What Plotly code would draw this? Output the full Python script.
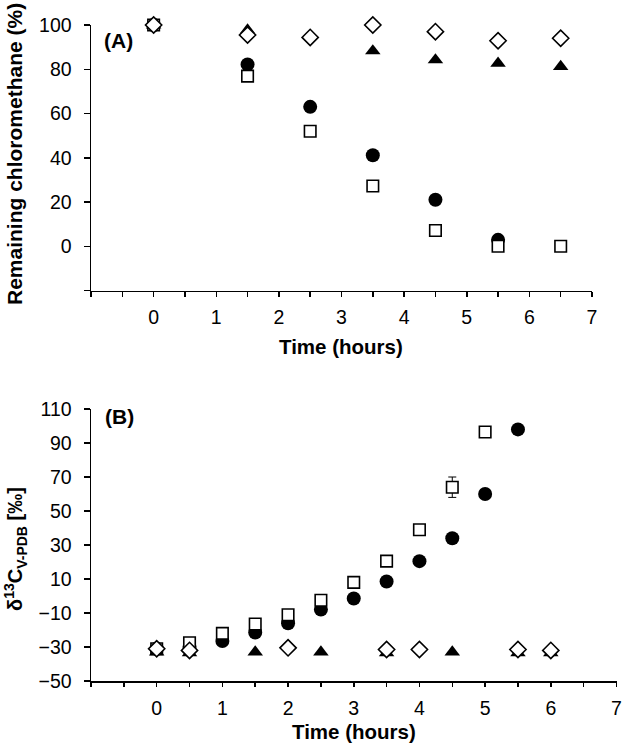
import plotly.graph_objects as go

# ---------------- Data: panel A (remaining chloromethane, %) ----------------
a_circle_t = [0, 1.5, 2.5, 3.5, 4.5, 5.5]
a_circle_v = [100, 82.2, 63, 41.1, 21, 2.9]
a_square_t = [0, 1.5, 2.5, 3.5, 4.5, 5.5, 6.5]
a_square_v = [100, 76.9, 52, 27.2, 7.1, 0, 0]
a_tri_t = [0, 1.5, 3.5, 4.5, 5.5, 6.5]
a_tri_v = [100, 97.7, 88.3, 84.2, 82.7, 81.2]
a_dia_t = [0, 1.5, 2.5, 3.5, 4.5, 5.5, 6.5]
a_dia_v = [100, 95.5, 94.4, 100, 97, 92.9, 94]

# ---------------- Data: panel B (delta 13C, permil) ----------------
b_circle_t = [0, 0.5, 1, 1.5, 2, 2.5, 3, 3.5, 4, 4.5, 5, 5.5]
b_circle_v = [-31, -30, -26.5, -21.5, -16, -8, -1.5, 8.5, 20.5, 34, 60, 98]
b_square_t = [0, 0.5, 1, 1.5, 2, 2.5, 3, 3.5, 4, 4.5, 5]
b_square_v = [-31, -27.5, -22, -16.5, -11, -2.5, 8, 20.5, 39, 64, 96.5]
b_square_err = [0, 0, 0, 0, 0, 0, 0, 0, 0, 6, 0]
b_tri_t = [0, 0.5, 1.5, 2.5, 3.5, 4.5, 5.5, 6]
b_tri_v = [-33, -33.5, -33, -33, -33.5, -33, -33.5, -33.5]
b_dia_t = [0, 0.5, 2, 3.5, 4, 5.5, 6]
b_dia_v = [-31, -32, -30.5, -31.5, -31.5, -31.5, -32]

# ---------------- Axis ticks ----------------
x_label_vals = [0, 1, 2, 3, 4, 5, 6, 7]
x_label_text = ["0", "1", "2", "3", "4", "5", "6", "7"]
x_tick_marks = [-1, -0.5, 0, 0.5, 1, 1.5, 2, 2.5, 3, 3.5, 4, 4.5, 5, 5.5, 6, 6.5, 7]
a_y_label_vals = [0, 20, 40, 60, 80, 100]
a_y_label_text = ["0", "20", "40", "60", "80", "100"]
a_y_tick_marks = [-20, 0, 20, 40, 60, 80, 100]
b_y_label_vals = [-50, -30, -10, 10, 30, 50, 70, 90, 110]
b_y_label_text = ["\u221250", "\u221230", "\u221210", "10", "30", "50", "70", "90", "110"]

W, H = 622, 750
FONT = "Arial, Liberation Sans, sans-serif"


def px_x(p):
    return p / W


def px_y(p):
    return 1 - p / H


fig = go.Figure()

CIRC = dict(symbol="circle", size=14, color="black", line=dict(width=0))
SQ = dict(symbol="square", size=11.5, color="white", line=dict(color="black", width=1.6))
TRI = dict(symbol="triangle-up", size=13.5, color="black", line=dict(width=0))
DIA = dict(symbol="diamond", size=12.5, color="white", line=dict(color="black", width=1.6))


def add(t, v, marker, xa, ya, err=None):
    kw = {}
    if err is not None:
        kw["error_y"] = dict(type="data", array=err, visible=True,
                             color="black", thickness=1, width=4)
    fig.add_trace(go.Scatter(x=t, y=v, mode="markers", marker=marker,
                             xaxis=xa, yaxis=ya, cliponaxis=False,
                             showlegend=False, hoverinfo="skip", **kw))


# main subplots (labels) hold circles and squares; overlay subplots (tick marks)
# hold triangles and diamonds, drawn on top
add(a_circle_t, a_circle_v, CIRC, "x", "y")
add(a_square_t, a_square_v, SQ, "x", "y")
add(a_tri_t, a_tri_v, TRI, "x3", "y3")
add(a_dia_t, a_dia_v, DIA, "x3", "y3")

add(b_circle_t, b_circle_v, CIRC, "x2", "y2")
add(b_square_t, b_square_v, SQ, "x2", "y2", err=b_square_err)
add(b_tri_t, b_tri_v, TRI, "x4", "y4")
add(b_dia_t, b_dia_v, DIA, "x4", "y4")

TICKFONT = dict(family=FONT, size=19.5, color="black")
CLEAR = "rgba(0,0,0,0)"

label_axis = dict(showline=True, linecolor="black", linewidth=1.5,
                  ticks="outside", tickwidth=1, tickcolor=CLEAR,
                  showgrid=False, zeroline=False, tickfont=TICKFONT,
                  tickmode="array", automargin=False)
mark_axis = dict(showline=False, ticks="outside", tickwidth=1.5, tickcolor="black",
                 showgrid=False, zeroline=False, showticklabels=False,
                 tickmode="array", automargin=False)

XA_DOM = [px_x(91), px_x(592)]
YA_DOM = [px_y(290.5), px_y(25)]
XB_DOM = [px_x(91), px_x(616.5)]
YB_DOM = [px_y(681), px_y(409)]

fig.update_layout(
    width=W, height=H, autosize=False,
    margin=dict(l=0, r=0, t=0, b=0, pad=0),
    paper_bgcolor="white", plot_bgcolor="white",
    font=dict(family=FONT, color="black"),
    # panel A
    xaxis=dict(domain=XA_DOM, anchor="y", range=[-1, 7], tickvals=x_label_vals,
               ticktext=x_label_text, ticklen=9, **label_axis),
    yaxis=dict(domain=YA_DOM, anchor="x", range=[-20, 100], tickvals=a_y_label_vals,
               ticktext=a_y_label_text, ticklen=14, **label_axis),
    xaxis3=dict(overlaying="x", anchor="y3", range=[-1, 7], tickvals=x_tick_marks,
                ticklen=5, **mark_axis),
    yaxis3=dict(overlaying="y", anchor="x3", range=[-20, 100], tickvals=a_y_tick_marks,
                ticklen=6, **mark_axis),
    # panel B
    xaxis2=dict(domain=XB_DOM, anchor="y2", range=[-1, 7], tickvals=x_label_vals,
                ticktext=x_label_text, ticklen=9, **label_axis),
    yaxis2=dict(domain=YB_DOM, anchor="x2", range=[-50, 110], tickvals=b_y_label_vals,
                ticktext=b_y_label_text, ticklen=14, **label_axis),
    xaxis4=dict(overlaying="x2", anchor="y4", range=[-1, 7], tickvals=x_tick_marks,
                ticklen=5, **mark_axis),
    yaxis4=dict(overlaying="y2", anchor="x4", range=[-50, 110], tickvals=b_y_label_vals,
                ticklen=6, **mark_axis),
)

ann = [
    dict(text="<b>Time (hours)</b>", x=px_x(341), y=px_y(346), size=20.5),
    dict(text="<b>Time (hours)</b>", x=px_x(354), y=px_y(731), size=20.5),
    dict(text="<b>Remaining chloromethane (%)</b>", x=px_x(14), y=px_y(154), textangle=-90, size=21),
    dict(text="<b>\u03b4<sup>13</sup>C<sub>V-PDB</sub> [\u2030]</b>", x=px_x(15), y=px_y(549), textangle=-90, size=20),
    dict(text="<b>(A)</b>", x=px_x(118), y=px_y(40), size=21),
    dict(text="<b>(B)</b>", x=px_x(120), y=px_y(416), size=21),
]
for a in ann:
    size = a.pop("size")
    fig.add_annotation(xref="paper", yref="paper", showarrow=False,
                       xanchor="center", yanchor="middle",
                       font=dict(family=FONT, size=size, color="black"), **a)

# remove the browser's default 8px page margin so the figure sits at (0, 0)
fig.write_html("out.html", config={"displayModeBar": False, "staticPlot": True},
               post_script="document.body.style.margin='0';document.body.style.overflow='hidden';")
